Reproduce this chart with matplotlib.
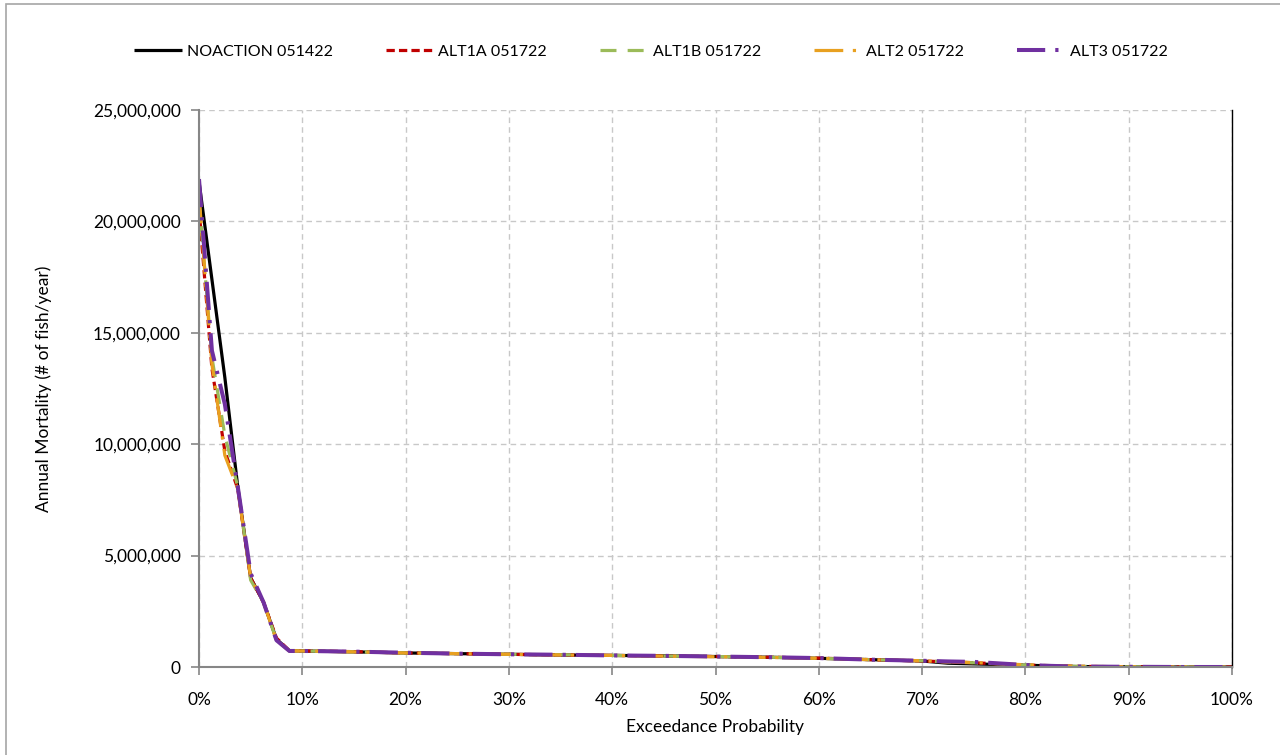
import matplotlib
matplotlib.use('Agg')
import matplotlib.pyplot as plt
from matplotlib.patches import Rectangle
from matplotlib.ticker import FuncFormatter, MultipleLocator

plt.rcParams['font.family'] = ['Lato', 'DejaVu Sans']

# exceedance probability (%)
exceed = [0, 1.25, 2.5, 3.75, 5, 6.25, 7.5, 8.75, 10, 15, 20, 25, 30, 35, 40, 45,
          50, 55, 60, 65, 70, 72.5, 75, 77.5, 80, 82.5, 85, 90, 95, 100]

# annual mortality, millions of fish per year
noaction = [21.8, 17.4, 13.0, 8.1, 4.0, 2.9, 1.25, 0.73, 0.72, 0.68, 0.63, 0.60, 0.57, 0.54, 0.52,
            0.50, 0.47, 0.44, 0.39, 0.33, 0.27, 0.17, 0.14, 0.11, 0.08, 0.05, 0.02, 0.01, 0.0, 0.0]
alt1a = [20.6, 13.4, 9.7, 8.0, 4.0, 2.9, 1.3, 0.73, 0.72, 0.69, 0.63, 0.60, 0.57, 0.54, 0.52,
         0.49, 0.47, 0.44, 0.40, 0.33, 0.27, 0.23, 0.19, 0.14, 0.09, 0.05, 0.03, 0.01, 0.0, 0.0]
alt1b = [21.0, 13.9, 10.4, 8.1, 3.9, 2.9, 1.2, 0.72, 0.72, 0.68, 0.63, 0.60, 0.57, 0.55, 0.52,
         0.49, 0.47, 0.44, 0.39, 0.33, 0.28, 0.23, 0.19, 0.14, 0.09, 0.05, 0.03, 0.01, 0.0, 0.0]
alt2 = [21.2, 13.6, 9.5, 8.0, 4.0, 2.9, 1.2, 0.72, 0.72, 0.68, 0.63, 0.60, 0.57, 0.54, 0.52,
        0.49, 0.46, 0.43, 0.39, 0.33, 0.28, 0.23, 0.20, 0.15, 0.10, 0.06, 0.03, 0.01, 0.0, 0.0]
alt3 = [21.9, 14.2, 11.8, 8.1, 4.2, 2.9, 1.2, 0.72, 0.72, 0.69, 0.64, 0.60, 0.57, 0.55, 0.52,
        0.50, 0.47, 0.44, 0.40, 0.33, 0.28, 0.25, 0.23, 0.16, 0.09, 0.05, 0.02, 0.01, 0.0, 0.0]

labels = ['NOACTION 051422', 'ALT1A 051722', 'ALT1B 051722', 'ALT2 051722', 'ALT3 051722']

fig = plt.figure(figsize=(12.8, 7.55), dpi=100)
ax = fig.add_axes([199 / 1280, 1 - 667 / 755, (1232 - 199) / 1280, (667 - 110) / 755])

# outer chart border
fig.patches.append(Rectangle((6 / 1280, -0.05), 1.1, 1 - 4 / 755 + 0.05, transform=fig.transFigure,
                             fill=False, edgecolor='#A6A6A6', linewidth=1.2))

series = [
    (noaction, '#000000', 2.3, '-'),
    (alt1a, '#C00000', 2.3, (0, (2.6, 1.3))),
    (alt1b, '#9BBB59', 2.3, (0, (5, 3.5))),
    (alt2, '#E8A020', 2.3, (0, (9, 3, 1, 3))),
    (alt3, '#7030A0', 2.9, (0, (7, 2.5, 0.8, 2.5))),
]
for (vals, color, lw, ls), lab in zip(series, labels):
    ax.plot(exceed, [v * 1e6 for v in vals], color=color, lw=lw, linestyle=ls, label=lab,
            solid_capstyle='butt', dash_capstyle='butt')

ax.set_xlim(0, 100)
ax.set_ylim(0, 25e6)
ax.xaxis.set_major_locator(MultipleLocator(10))
ax.yaxis.set_major_locator(MultipleLocator(5e6))
ax.xaxis.set_major_formatter(FuncFormatter(lambda v, p: f'{v:.0f}%'))
ax.yaxis.set_major_formatter(FuncFormatter(lambda v, p: f'{v:,.0f}'))
ax.grid(True, color='#C8C8C8', linestyle=(0, (4, 3)), linewidth=1)
ax.set_axisbelow(True)

for s in ['left', 'bottom']:
    ax.spines[s].set_color('#868686')
    ax.spines[s].set_linewidth(1.5)
ax.spines['top'].set_visible(False)
ax.spines['right'].set_color('#000000')
ax.spines['right'].set_linewidth(1)
ax.tick_params(axis='both', direction='out', length=6, width=1.2, color='#868686',
               labelsize=12.5, labelcolor='#000000')
ax.tick_params(axis='x', pad=12)
ax.tick_params(axis='y', pad=7)

ax.set_xlabel('Exceedance Probability', fontsize=12.5)
ax.set_ylabel('Annual Mortality (# of fish/year)', fontsize=12.5)
ax.xaxis.set_label_coords(0.5, -(719 - 667) / 557)
ax.yaxis.set_label_coords(-(199 - 52) / 1033, 0.5)

leg = fig.legend(loc='center', bbox_to_anchor=(651 / 1280, 1 - 52 / 755), ncol=5, frameon=False,
                 fontsize=11.5, handlelength=3.0, handletextpad=0.3, columnspacing=3.3)

fig.savefig('out.png', dpi=100)
